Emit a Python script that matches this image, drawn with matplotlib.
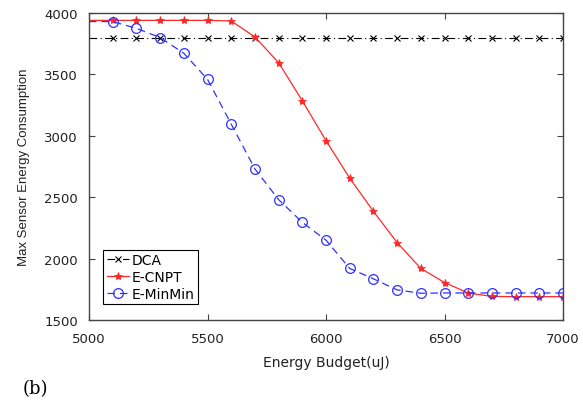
import matplotlib
matplotlib.use("Agg")
import matplotlib.pyplot as plt

# budgets (uJ)
budget = [5000, 5100, 5200, 5300, 5400, 5500, 5600, 5700, 5800, 5900, 6000,
          6100, 6200, 6300, 6400, 6500, 6600, 6700, 6800, 6900, 7000]

dca = [3800] * len(budget)
e_cnpt = [3940, 3940, 3940, 3940, 3940, 3940, 3935, 3805, 3595, 3285, 2960,
          2655, 2385, 2130, 1920, 1805, 1720, 1692, 1690, 1690, 1690]
e_minmin = [3930, 3930, 3875, 3800, 3672, 3460, 3095, 2730, 2480, 2295, 2150,
            1920, 1835, 1745, 1718, 1720, 1720, 1720, 1720, 1720, 1720]

# the source picture is a bit stretched sideways -> wider font for horizontal text
plt.rcParams['font.family'] = ['DejaVu Sans']

fig = plt.figure(figsize=(5.83, 4.02), dpi=100)
ax = fig.add_axes([0.1527, 0.2015, 0.813, 0.7637])

marks = list(range(1, len(budget)))  # no marker on the left axis
ax.plot(budget, dca, color='black', linestyle=(0, (7, 3, 1, 3)), linewidth=0.8,
        marker='x', markersize=5, markeredgewidth=0.8, markevery=marks, label='DCA')
ax.plot(budget, e_cnpt, color='#ff2828', linestyle='-', linewidth=0.9,
        marker='*', markersize=6, markeredgewidth=0.6, markevery=marks, label='E-CNPT')
ax.plot(budget, e_minmin, color='#3030ff', linestyle=(0, (6, 4)), linewidth=0.9,
        marker='o', markersize=7, markerfacecolor='none', markeredgewidth=0.9,
        markevery=marks, label='E-MinMin')

ax.set_xlim(5000, 7000)
ax.set_ylim(1500, 4000)
ax.set_xticks([5000, 5500, 6000, 6500, 7000])
ax.set_yticks([1500, 2000, 2500, 3000, 3500, 4000])
ax.tick_params(direction='in', top=True, right=True, labelsize=9.5, length=4,
               color='#444444', labelcolor='#222222')
ax.tick_params(axis='x', pad=9)
ax.tick_params(axis='y', pad=8)
for s in ax.spines.values():
    s.set_color('#444444')
    s.set_linewidth(1.0)

ax.set_xlabel('Energy Budget(uJ)', fontsize=10, labelpad=7, color='#222222')
ax.set_ylabel('Max Sensor Energy Consumption', fontsize=9.5, labelpad=10,
              family=['Liberation Sans', 'DejaVu Sans'], color='#222222')

leg = ax.legend(loc='lower left', bbox_to_anchor=(0.03, 0.052), borderaxespad=0,
                fontsize=10, handlelength=1.6, handletextpad=0.2, borderpad=0.25,
                labelspacing=0.2, fancybox=False, framealpha=1)
leg.get_frame().set_edgecolor('black')
leg.get_frame().set_linewidth(0.8)

fig.text(0.038, 0.02, '(b)', family=['DejaVu Serif'], fontsize=13)

fig.savefig('out.png', dpi=100)
